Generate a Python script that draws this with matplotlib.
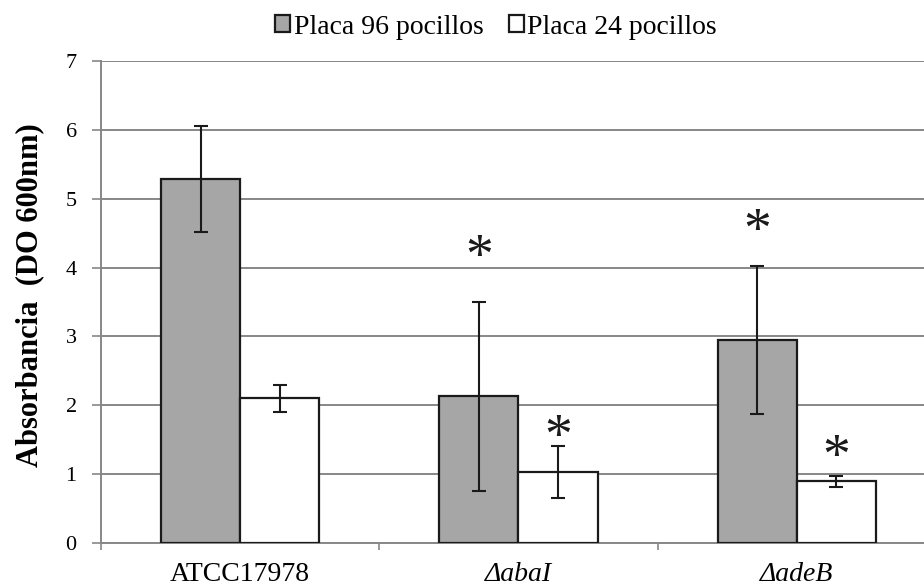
import matplotlib
matplotlib.use("Agg")
import matplotlib.pyplot as plt
import matplotlib.transforms as mtransforms
import numpy as np

# Biofilm absorbance by strain and plate format
strains = ["ATCC17978", "ΔabaI", "ΔadeB"]
italic_labels = [False, True, True]
series_names = ["Placa 96 pocillos", "Placa 24 pocillos"]
plate96 = [5.28, 2.13, 2.95]
plate96_err = [0.77, 1.37, 1.08]
plate24 = [2.10, 1.03, 0.90]
plate24_err = [0.20, 0.38, 0.08]
# significance marks: (strain index, series index, y of the star centre)
marks = [(1, 0, 4.30), (1, 1, 1.69), (2, 0, 4.68), (2, 1, 1.40)]

plt.rcParams["font.family"] = ["Liberation Serif", "DejaVu Serif"]

fig = plt.figure(figsize=(9.24, 5.87), dpi=100)
ax = fig.add_axes([101 / 924, 44 / 587, 835 / 924, 482 / 587])

grid_col = "#878787"
edge_col = "#1a1a1a"
x = np.arange(len(strains))
w = 0.284
offsets = [-w / 2, w / 2]
colors = ["#A6A6A6", "#FFFFFF"]
values = [plate96, plate24]
errors = [plate96_err, plate24_err]

for k in range(2):
    ax.bar(x + offsets[k], values[k], width=w, color=colors[k],
           edgecolor=edge_col, linewidth=1.6, label=series_names[k], zorder=3)
    ax.errorbar(x + offsets[k], values[k], yerr=errors[k], fmt="none",
                ecolor=edge_col, elinewidth=1.5, capsize=5, capthick=1.5,
                zorder=4)

# asterisk glyph sits above the text-box centre; shift it down to centre the ink
star_size = 40
star_tr = mtransforms.offset_copy(ax.transData, fig=fig, x=0,
                                  y=-0.22 * star_size, units="points")
for i, k, yv in marks:
    ax.text(x[i] + offsets[k], yv, "*", ha="center", va="center",
            fontsize=star_size, color=edge_col, zorder=5, transform=star_tr)

ax.set_xlim(-0.5, len(strains) - 0.5)
ax.set_ylim(0, 7)
ax.set_yticks(range(0, 8))
ax.yaxis.grid(True, color=grid_col, linewidth=1.4, zorder=0)
ax.set_axisbelow(True)

ax.set_xticks(x)
ax.set_xticklabels(strains, fontsize=20)
for lbl, it in zip(ax.get_xticklabels(), italic_labels):
    if it:
        lbl.set_fontstyle("italic")
ax.set_xticks(np.arange(-0.5, len(strains) + 0.5, 1), minor=True)
ax.tick_params(axis="x", which="major", length=0, pad=14)
ax.tick_params(axis="x", which="minor", length=5, width=1.2, color=grid_col)
ax.tick_params(axis="y", length=6.5, width=1.2, color=grid_col,
               labelsize=16, pad=11)

for s in ["top", "right"]:
    ax.spines[s].set_visible(False)
for s in ["left", "bottom"]:
    ax.spines[s].set_color(grid_col)
    ax.spines[s].set_linewidth(1.4)

fig.text(30 / 924, 1 - 295 / 587, "Absorbancia  (DO 600nm)", rotation=90,
         ha="center", va="center", fontsize=22, fontweight="bold")

handles, labels = ax.get_legend_handles_labels()
fig.legend(handles, labels, loc="center", bbox_to_anchor=(496 / 924, 1 - 27 / 587),
           ncol=2, frameon=False, fontsize=20, handlelength=0.55,
           handleheight=0.55, handletextpad=0.12, columnspacing=0.9,
           borderpad=0.2)

fig.savefig("out.png", dpi=100)
